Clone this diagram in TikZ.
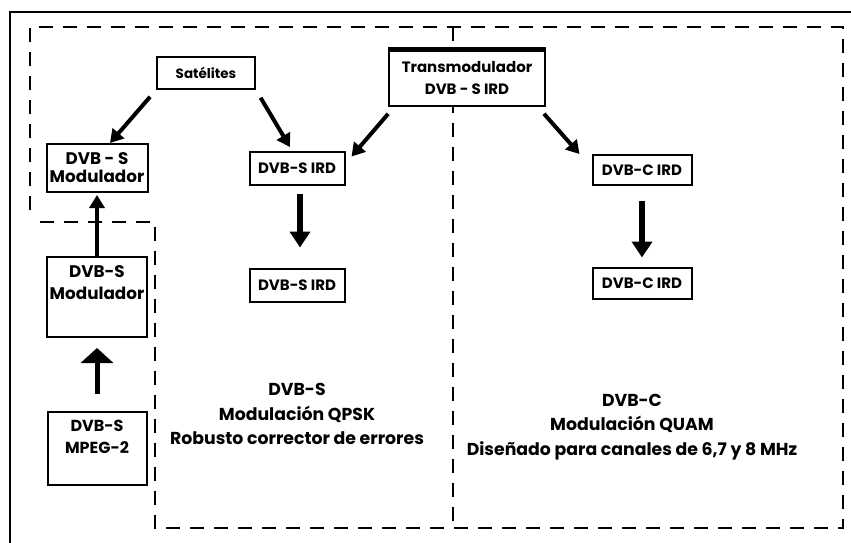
\documentclass[tikz,border=0pt]{standalone}
\usepackage{fontspec}
\setmainfont{Poppins}
\usetikzlibrary{arrows.meta}

\begin{document}
\begin{tikzpicture}[x=1pt, y=-1pt,
  box/.style={draw, line width=2pt, fill=white, inner sep=0pt, align=center,
    font=\bfseries\fontsize{15}{19}\selectfont},
  zone/.style={dashed, line width=2.4pt, dash pattern=on 14pt off 10pt},
  arr/.style={line width=4pt, -{Triangle[length=13pt, width=15pt]}},
  bigarr/.style={line width=5.5pt, -{Triangle[length=16pt, width=20pt]}},
  note/.style={align=center, font=\bfseries\fontsize{17.3}{24.5}\selectfont}]
\useasboundingbox (0,0) rectangle (851,542);
% frame and the two zones
\draw[line width=2.5pt] (10,560) -- (10,12) -- (870,12);
\draw[zone] (30,210) -- (30,27) -- (843,27) -- (843,528) -- (155,528) -- (155,222) -- (33,222);
\draw[zone] (453,27) -- (453,528);

% boxes
\node[box, minimum width=98pt, minimum height=32pt, font=\bfseries\fontsize{13.5}{16}\selectfont] (sat) at (206,73) {Satélites};
\node[box, minimum width=156pt, minimum height=56pt] (trans) at (467,78) {Transmodulador\\[3pt]DVB - S IRD};
\draw[line width=5pt] (trans.north west) -- (trans.north east);
\node[box, minimum width=101pt, minimum height=48pt, font=\bfseries\fontsize{16.8}{18}\selectfont] (modA) at (97,168) {DVB - S\\Modulador};
\node[box, minimum width=95pt, minimum height=33pt] (irdS1) at (297,168) {DVB-S IRD};
\node[box, minimum width=95pt, minimum height=33pt] (irdS2) at (297,285) {DVB-S IRD};
\node[box, minimum width=99pt, minimum height=30pt] (irdC1) at (642,170) {DVB-C IRD};
\node[box, minimum width=99pt, minimum height=31pt] (irdC2) at (642,283) {DVB-C IRD};
\node[box, minimum width=100pt, minimum height=80pt, font=\bfseries\fontsize{16.8}{20}\selectfont] (modB) at (97,297) {DVB-S\\[2pt]Modulador\\[8pt]};
\node[box, minimum width=99pt, minimum height=73pt, font=\bfseries\fontsize{16}{20}\selectfont] (mpeg) at (97,448) {DVB-S\\[2pt]MPEG-2\\[3pt]};

% notes
\node[note] (dvbS) at (297,414) {DVB-S\\Modulación QPSK\\Robusto corrector de errores};
\node[note] (dvbC) at (632,427) {DVB-C\\Modulación QUAM\\Diseñado para canales de 6,7 y 8 MHz};

% arrows
\draw[arr, shorten <=9pt] (sat.south west) -- ([xshift=13pt]modA.north);
\draw[arr, shorten <=9pt, shorten >=4pt] (sat.south east) -- ([xshift=-5pt]irdS1.north);
\draw[arr, shorten <=9pt] ([xshift=6pt]trans.south west) -- ([xshift=6pt,yshift=-6pt]irdS1.north east);
\draw[arr, shorten <=9pt] ([xshift=-8pt]trans.south east) -- ([xshift=-12pt]irdC1.north west);
\draw[bigarr, shorten <=8pt, shorten >=20pt] ([xshift=3pt]irdS1.south) -- ([xshift=3pt]irdS2.north);
\draw[bigarr, shorten <=15pt, shorten >=9pt] (irdC1.south) -- (irdC2.north);
\draw[arr, shorten >=2pt] (modB.north) -- (modA.south);
\draw[line width=5pt, -{Triangle[length=15pt, width=32pt]}, shorten <=17pt, shorten >=10pt] (mpeg.north) -- (modB.south);
\end{tikzpicture}
\end{document}
